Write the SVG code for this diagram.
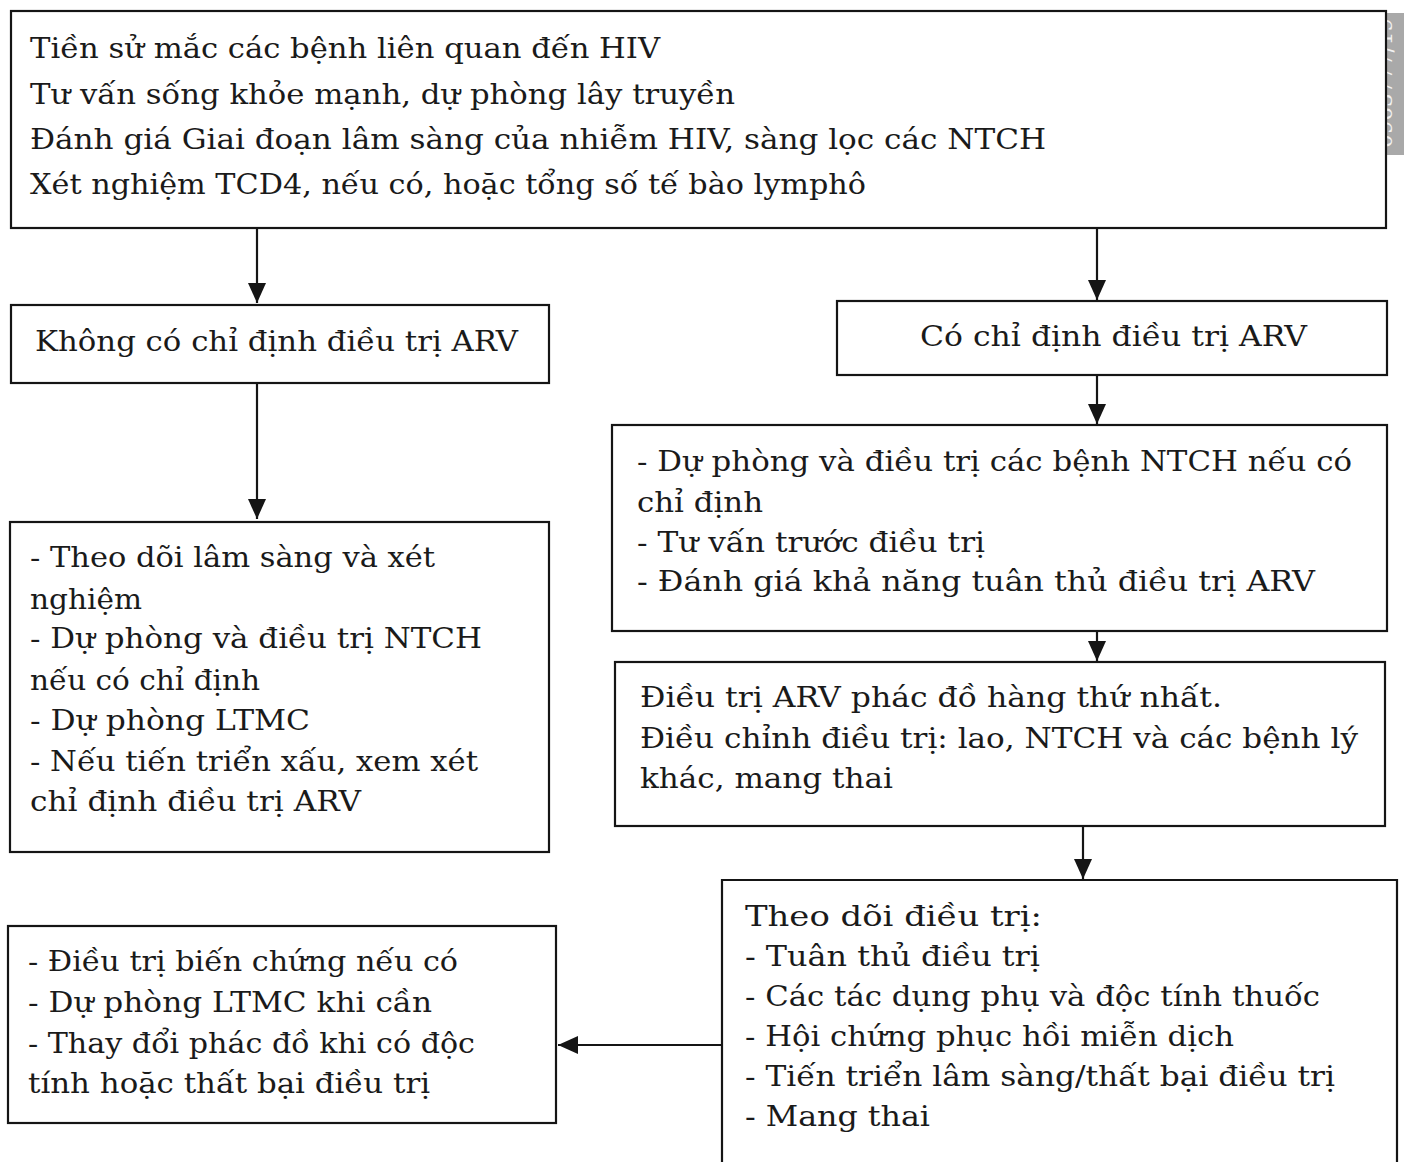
<svg xmlns="http://www.w3.org/2000/svg" width="1404" height="1162" viewBox="0 0 1404 1162">
<style>
.box{fill:#ffffff;stroke:#151515;stroke-width:2.2}
.t{font-family:"DejaVu Serif","Liberation Serif",serif;font-size:28px;fill:#1a1a1a}
.c{fill:none;stroke:#151515;stroke-width:2.2}
</style>
<defs>
<marker id="ah" markerUnits="userSpaceOnUse" markerWidth="22" markerHeight="18" refX="20" refY="9" orient="auto">
<path d="M0,0 L20,9 L0,18 Z" fill="#151515"/>
</marker>
</defs>
<rect width="1404" height="1162" fill="#ffffff"/>
<g id="watermark">
<rect x="1364" y="13" width="40" height="142" fill="#a9a9a9"/>
<text transform="translate(1392,148) rotate(-90)" font-family="'DejaVu Serif',serif" font-size="22" fill="#f2f2f2" textLength="130" lengthAdjust="spacingAndGlyphs">0963777/19</text>
</g>
<g id="connectors">
<path class="c" d="M257,228 V303" marker-end="url(#ah)"/>
<path class="c" d="M1097,228 V300" marker-end="url(#ah)"/>
<path class="c" d="M257,383 V519" marker-end="url(#ah)"/>
<path class="c" d="M1097,375 V424" marker-end="url(#ah)"/>
<path class="c" d="M1097,631 V661" marker-end="url(#ah)"/>
<path class="c" d="M1083,826 V879" marker-end="url(#ah)"/>
<path class="c" d="M722,1045 H558" marker-end="url(#ah)"/>
</g>
<g id="n-top">
<rect class="box" x="11" y="11" width="1375" height="217"/>
<text class="t" x="30" y="58" textLength="630" lengthAdjust="spacingAndGlyphs">Tiền sử mắc các bệnh liên quan đến HIV</text>
<text class="t" x="30" y="104" textLength="705" lengthAdjust="spacingAndGlyphs">Tư vấn sống khỏe mạnh, dự phòng lây truyền</text>
<text class="t" x="30" y="149" textLength="1016" lengthAdjust="spacingAndGlyphs">Đánh giá Giai đoạn lâm sàng của nhiễm HIV, sàng lọc các NTCH</text>
<text class="t" x="30" y="194" textLength="836" lengthAdjust="spacingAndGlyphs">Xét nghiệm TCD4, nếu có, hoặc tổng số tế bào lymphô</text>
</g>
<g id="n-no-arv">
<rect class="box" x="11" y="305" width="538" height="78"/>
<text class="t" x="35" y="351" textLength="483" lengthAdjust="spacingAndGlyphs">Không có chỉ định điều trị ARV</text>
</g>
<g id="n-arv">
<rect class="box" x="837" y="301" width="550" height="74"/>
<text class="t" x="920" y="346" textLength="387" lengthAdjust="spacingAndGlyphs">Có chỉ định điều trị ARV</text>
</g>
<g id="n-prep">
<rect class="box" x="612" y="425" width="775" height="206"/>
<text class="t" x="637" y="471" textLength="715" lengthAdjust="spacingAndGlyphs">- Dự phòng và điều trị các bệnh NTCH nếu có</text>
<text class="t" x="637" y="512" textLength="126" lengthAdjust="spacingAndGlyphs">chỉ định</text>
<text class="t" x="637" y="552" textLength="348" lengthAdjust="spacingAndGlyphs">- Tư vấn trước điều trị</text>
<text class="t" x="637" y="591" textLength="678" lengthAdjust="spacingAndGlyphs">- Đánh giá khả năng tuân thủ điều trị ARV</text>
</g>
<g id="n-first-line">
<rect class="box" x="615" y="662" width="770" height="164"/>
<text class="t" x="640" y="707" textLength="582" lengthAdjust="spacingAndGlyphs">Điều trị ARV phác đồ hàng thứ nhất.</text>
<text class="t" x="640" y="748" textLength="718" lengthAdjust="spacingAndGlyphs">Điều chỉnh điều trị: lao, NTCH và các bệnh lý</text>
<text class="t" x="640" y="788" textLength="253" lengthAdjust="spacingAndGlyphs">khác, mang thai</text>
</g>
<g id="n-monitor">
<path class="box" d="M722,1162 V880 H1397 V1162"/>
<text class="t" x="745" y="926" textLength="297" lengthAdjust="spacingAndGlyphs">Theo dõi điều trị:</text>
<text class="t" x="745" y="966" textLength="295" lengthAdjust="spacingAndGlyphs">- Tuân thủ điều trị</text>
<text class="t" x="745" y="1006" textLength="575" lengthAdjust="spacingAndGlyphs">- Các tác dụng phụ và độc tính thuốc</text>
<text class="t" x="745" y="1046" textLength="489" lengthAdjust="spacingAndGlyphs">- Hội chứng phục hồi miễn dịch</text>
<text class="t" x="745" y="1086" textLength="590" lengthAdjust="spacingAndGlyphs">- Tiến triển lâm sàng/thất bại điều trị</text>
<text class="t" x="745" y="1126" textLength="185" lengthAdjust="spacingAndGlyphs">- Mang thai</text>
</g>
<g id="n-follow">
<rect class="box" x="10" y="522" width="539" height="330"/>
<text class="t" x="30" y="567" textLength="405" lengthAdjust="spacingAndGlyphs">- Theo dõi lâm sàng và xét</text>
<text class="t" x="30" y="609" textLength="112" lengthAdjust="spacingAndGlyphs">nghiệm</text>
<text class="t" x="30" y="648" textLength="452" lengthAdjust="spacingAndGlyphs">- Dự phòng và điều trị NTCH</text>
<text class="t" x="30" y="690" textLength="230" lengthAdjust="spacingAndGlyphs">nếu có chỉ định</text>
<text class="t" x="30" y="730" textLength="280" lengthAdjust="spacingAndGlyphs">- Dự phòng LTMC</text>
<text class="t" x="30" y="771" textLength="448" lengthAdjust="spacingAndGlyphs">- Nếu tiến triển xấu, xem xét</text>
<text class="t" x="30" y="811" textLength="331" lengthAdjust="spacingAndGlyphs">chỉ định điều trị ARV</text>
</g>
<g id="n-complications">
<rect class="box" x="8" y="926" width="548" height="197"/>
<text class="t" x="28" y="971" textLength="430" lengthAdjust="spacingAndGlyphs">- Điều trị biến chứng nếu có</text>
<text class="t" x="28" y="1012" textLength="404" lengthAdjust="spacingAndGlyphs">- Dự phòng LTMC khi cần</text>
<text class="t" x="28" y="1053" textLength="447" lengthAdjust="spacingAndGlyphs">- Thay đổi phác đồ khi có độc</text>
<text class="t" x="28" y="1093" textLength="402" lengthAdjust="spacingAndGlyphs">tính hoặc thất bại điều trị</text>
</g>
</svg>
